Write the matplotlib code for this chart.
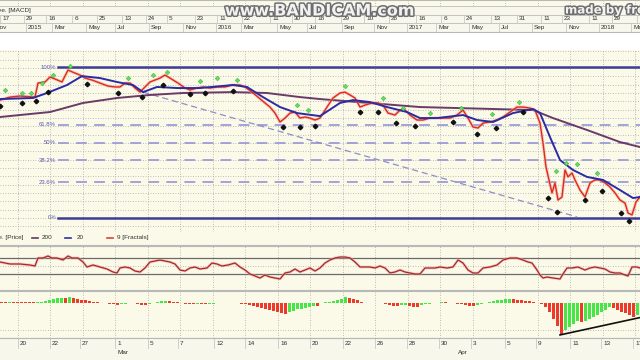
import numpy as np
import matplotlib
matplotlib.use('Agg')
import matplotlib.pyplot as plt
import matplotlib.patheffects as pe

plt.rcParams['font.family'] = ['Liberation Sans', 'DejaVu Sans']

# ---------------- main panel: weekly price, scaled so swing low = 0 and swing high = 100
price_bar = [0, 2.5, 5, 8.75, 9.5, 11.25, 12.5, 13.75, 15.5, 17, 18.75, 20, 21.25, 23, 25, 27, 28.75, 30,
             31.25, 32.5, 33.75, 35, 36.25, 37.5, 38.75, 40, 41.25, 42.5, 44.5, 46.25, 47.5, 49.25, 50.75,
             52.5, 54.25, 56.25, 58, 60, 61.25, 63, 64.5, 66.25, 67.5, 68.75, 70, 71.25, 72.5, 73.75, 75,
             76.25, 77.5, 78.75, 80, 81.75, 83.25, 85, 86.25, 87.5, 88.75, 90, 91.25, 93, 94.5, 95.75, 97,
             98.75, 100, 101.25, 102.5, 104.25, 105.75, 107.5, 109.25, 110.75, 112.5, 114.25, 115.75, 117,
             118.25, 119.5, 120.75, 122.5, 124.25, 125.75, 127.5, 129.25, 130.75, 132.5, 133.75, 135,
             135.75, 136.5, 137.25, 138, 138.75, 139.5, 140.5, 141.25, 142, 143, 143.75, 145, 146.25, 147.5,
             148.75, 150, 151.25, 152.5, 153.75, 155, 156.25, 157, 158, 159, 160]
price_close = [78.1, 80.1, 80.8, 80.1, 89.4, 90.1, 93.4, 92.1, 90.1, 98.0, 96.0, 94.7, 92.7, 91.4, 89.4,
               87.4, 86.8, 86.8, 89.4, 89.4, 86.1, 83.4, 86.8, 90.1, 91.4, 92.7, 94.7, 92.7, 89.4, 86.1,
               84.8, 86.1, 86.8, 86.1, 86.8, 86.8, 88.1, 88.1, 86.8, 83.4, 80.1, 76.2, 73.5, 69.5, 63.6,
               66.2, 69.5, 70.2, 66.2, 66.9, 66.2, 64.9, 66.2, 73.5, 79.5, 82.8, 83.4, 81.5, 79.5, 73.5,
               74.8, 76.2, 76.2, 74.8, 69.5, 68.2, 71.5, 71.5, 68.2, 64.9, 64.9, 66.2, 66.2, 66.2, 66.2,
               68.2, 71.5, 66.2, 60.3, 59.6, 62.9, 63.6, 64.9, 66.9, 70.2, 73.5, 73.5, 72.8, 71.5, 62.9,
               49.7, 33.8, 25.2, 16.6, 23.2, 11.9, 13.9, 31.8, 27.2, 29.8, 25.2, 18.5, 13.9, 23.2, 25.2,
               25.2, 23.2, 20.5, 16.6, 11.9, 9.9, 3.3, 2.0, 10.6, 13.9]

ma20_bar = [0, 8.25, 11.75, 16.75, 20.5, 25, 29.25, 33.25, 35.75, 39.25, 44.25, 50, 58.25, 61.75, 65.75,
            70, 74.25, 80, 85, 88.25, 92.5, 96.75, 101.75, 105, 109.25, 115.75, 119.25, 123.25, 128.25,
            133.25, 135, 137.5, 140, 143.25, 146.75, 150.75, 155, 158.25, 160]
ma20 = [78.8, 79.5, 82.8, 88.1, 94.0, 92.7, 90.1, 88.1, 83.4, 86.8, 86.1, 86.1, 88.1, 86.8, 80.1, 73.5,
        69.5, 67.5, 76.2, 78.1, 76.8, 73.5, 70.2, 66.2, 66.2, 68.2, 64.9, 63.6, 69.5, 72.2, 69.5, 53.6,
        38.4, 31.8, 27.2, 25.2, 18.5, 13.2, 13.9]

ma200_bar = [0, 12.5, 20.75, 29.25, 37.5, 45.75, 58.25, 66.75, 75, 80, 105, 133.25, 138.25, 146.75, 155, 160]
ma200 = [66.9, 70.2, 76.2, 79.5, 81.5, 82.8, 83.4, 82.8, 80.1, 78.8, 73.5, 71.5, 66.2, 58.3, 50.3, 47.0]

frac_up_bar = [1.25, 5.5, 7.75, 10.5, 13.25, 17.5, 32, 38.25, 41.75, 50, 54.25, 59.25, 74.25, 77, 86.25,
               95.75, 100.75, 107.5, 115.25, 123, 129.75, 139, 141.5, 144.25, 149.25]
frac_up = [84.8, 82.8, 82.8, 89.4, 94.7, 100.7, 92.7, 94.7, 96.7, 90.7, 92.7, 91.4, 74.8, 71.5, 87.4,
           79.5, 72.8, 69.5, 72.8, 68.9, 76.8, 31.1, 36.4, 35.8, 29.8]
frac_dn_bar = [0, 5.5, 9, 12, 21.75, 29.5, 35.5, 40.75, 47.5, 51.25, 58.25, 70.75, 75, 78.75, 90, 94.5,
               99, 103.75, 113.25, 119.25, 124, 130.75, 137, 139.25, 146.25, 150.5, 155.25, 157.25]
frac_dn = [74.2, 76.2, 77.5, 83.4, 88.7, 82.8, 80.1, 88.1, 82.1, 82.8, 84.1, 60.3, 60.3, 60.9, 70.2, 70.2,
           62.9, 60.9, 63.6, 55.6, 59.6, 70.2, 13.2, 4.0, 11.9, 17.9, 3.3, -2.0]

fib_levels = [100, 61.8, 50, 38.2, 23.6, 0]
fib_labels = ['100%', '61.8%', '50%', '38.2%', '23.6%', '0%']
trend_bar = [35.75, 144.25]
trend_val = [83.4, 0.7]

# ---------------- date strip above the main panel
top_days = ['17', '29', '16', '6', '25', '13', '24', '5', '23', '11', '22', '11', '30', '18', '29', '10',
            '28', '16', '6', '24', '13', '31', '11', '23', '11', '29', '19']
top_days_bar = [0.3, 6.25, 11.75, 18.25, 24.5, 30.75, 36.75, 42, 49, 54.5, 60.75, 67.75, 73.25, 79, 85.5,
                91.25, 97.5, 104.25, 110.5, 116.25, 123, 129.5, 135.5, 140.75, 147.5, 153.25, 159.5]
top_months = ['Nov', '2015', 'Mar', 'May', 'Jul', 'Sep', 'Nov', '2016', 'Mar', 'May', 'Jul', 'Sep', 'Nov',
              '2017', 'Mar', 'May', 'Jul', 'Sep', 'Nov', '2018', 'Mar']
top_months_bar = [-1.5, 6.75, 13.25, 21.75, 29, 37.5, 46, 54.25, 60.5, 69.5, 77, 85.75, 93.75, 102,
                  109.25, 117.5, 125, 133.25, 141.75, 150, 158]

# ---------------- lower panels (intraday bars)
rsi_bar = [0, 2.5, 5, 7.5, 8.75, 9.5, 10.75, 12, 13, 14.25, 15.75, 17, 18, 19.5, 20.75, 21.75, 23.25, 25,
           26.75, 28.25, 29.25, 30, 31.25, 32.5, 33.75, 35, 36.25, 37.5, 38.75, 40, 41.25, 42.5, 43.75,
           45, 46.25, 47.5, 48.75, 50, 51.75, 53, 54.25, 55.5, 57, 58.75, 60, 61.25, 62.5, 63.75, 65,
           66.25, 67.5, 68.75, 70, 71.25, 72.5, 73.75, 75, 76.25, 77.5, 78.75, 80, 81.25, 82.5, 83.75, 85,
           86.25, 87.5, 88.75, 90, 91.25, 92.5, 93.75, 95, 96.25, 97.5, 98.75, 100, 101.25, 102.5, 103.75,
           105, 106.25, 107.5, 108.75, 110, 111.75, 113.25, 114.5, 115.75, 117, 118.25, 119.5, 120.75,
           122.5, 124.25, 125.75, 127.5, 129.25, 130.75, 132, 133, 134.25, 135, 135.75, 136.75, 138.25,
           140, 140.75, 141.75, 143, 144.5, 146.25, 147.5, 148.75, 150, 151.25, 152.5, 153.75, 155,
           156.25, 157, 158, 159.25, 160]
rsi = [60, 55, 55, 52.5, 50, 70, 70, 75, 70, 70, 65, 75, 70, 70, 60, 47.5, 52.5, 47.5, 42.5, 35, 32.5,
       45, 47.5, 45, 37.5, 35, 45, 60, 62.5, 65, 62.5, 60, 55, 40, 37.5, 45, 47.5, 42.5, 45, 57.5, 55,
       50, 52.5, 57.5, 47.5, 40, 30, 25, 20, 27.5, 22.5, 20, 17.5, 32.5, 35, 42.5, 35, 40, 45, 37.5, 45,
       57.5, 65, 70, 72.5, 72.5, 70, 60, 47.5, 47.5, 47.5, 45, 50, 45, 32.5, 35, 40, 35, 32.5, 30, 30,
       45, 45, 45, 47.5, 45, 47.5, 65, 57.5, 40, 32.5, 32.5, 45, 47.5, 52.5, 65, 70, 70, 65, 60, 57.5,
       40, 27.5, 20, 22.5, 20, 17.5, 30, 45, 45, 47.5, 40, 45, 47.5, 45, 42.5, 35, 32.5, 32.5, 27.5,
       25, 47.5, 47.5, 45]
rsi_levels = [70, 30]

macd_hist = [1, 1, 1.5, 1.5, 1.5, 1.5, 1.2, 1, 0.8, 1,
             1.5, 2.5, 3.5, 4.5, 5, 5.5, 5.5, 6, 5.5, 4.5,
             3.5, 3, 2, 1.5, 1, 0.5, 0.2, -0.5, -1.2, -1.5,
             -1, -0.5, 0.3, -0.2, -0.5, -1.5, -1.8, -0.5, 0.5, 1.2,
             1.8, 2, 1.8, 1.5, 1, 0.3, -0.3, -0.6, -0.8, -0.6,
             -0.8, -1, -0.6, -0.3, 0.2, 0.3, 0.4, 0.3, 0.2, 0,
             -0.3, -0.8, -1.5, -2.5, -3.5, -4.5, -5.5, -6.5, -7.5, -8.5,
             -9.5, -10.5, -9, -7.5, -6, -5.5, -5, -3.5, -2.5, -3,
             0.5, 1, 1.5, 2, 3, 4.5, 6, 5.5, 4.5, 3,
             1.5, 0.5, 0.3, 0.5, 0.3, 0.2, -0.5, -1.5, -2.5, -3,
             -2, -1.5, -2.5, -3.5, -4, -2, -1, -0.5, 0, 0.5,
             1, 0.8, 0.3, 0, -0.5, -1, -2, -2.5, -3, -2,
             -0.5, 0.5, 1.5, 2.5, 3, 3.5, 4, 4.5, 4.2, 3.5,
             3, 2.5, 2, 1, 0.2, -1, -4, -9, -15, -22,
             -31, -26, -23, -20, -17, -18, -17, -15, -13, -11,
             -9, -7, -4, -5, -7, -9, -10, -11, -13, -11]
macd_trend_bar = [140, 160]
macd_trend_val = [-31, -14]

bottom_days = ['20', '22', '27', '1', '5', '7', '12', '14', '16', '20', '22', '26', '28', '30', '3', '5',
               '9', '11', '13', '17']
bottom_days_bar = [5, 13, 20.5, 29.25, 37.5, 45, 54, 61.75, 70, 78, 86.25, 94.25, 102.25, 110.25, 118.25,
                   126.75, 134.5, 143, 150.75, 158.75]
bottom_months = ['Mar', 'Apr']
bottom_months_bar = [29.25, 114.5]

# ---------------- styling
W, H = 640, 360
BG = '#fbfae8'
STRIP = '#f8f7ec'
GRID = '#a9a9a9'
grid_x = np.arange(4.375, 161, 8.125)
FS = 4.6

fig = plt.figure(figsize=(6.4, 3.6), dpi=100, facecolor='white')


def panel(top, bottom, color=BG):
    ax = fig.add_axes([0, 1 - bottom / H, 1, (bottom - top) / H])
    ax.set_facecolor(color)
    ax.set_xlim(0, 160)
    ax.tick_params(left=False, bottom=False, labelleft=False, labelbottom=False)
    for side, s in ax.spines.items():
        s.set_color('#b8b8b8')
        s.set_linewidth(0.8)
        if side in ('left', 'right'):
            s.set_visible(False)
    return ax


def dotted_grid(ax, yticks):
    ax.set_xticks(grid_x)
    ax.set_yticks(yticks)
    ax.grid(True, color=GRID, linestyle=(0, (1, 2)), linewidth=0.6)
    ax.set_axisbelow(True)


# top strip: tail of the previous chart and its date scale
ax_top = panel(0, 32, STRIP)
ax_top.set_ylim(32, 0)
ax_top.axhspan(0, 5.5, color=BG, lw=0)
ax_top.vlines(grid_x, 0, 5.5, colors=GRID, linestyles=(0, (1, 2)), linewidth=0.6)
for y in (5.5, 14.5, 23, 31.5):
    ax_top.axhline(y, color='#c4c4c4', lw=0.7)
ax_top.text(7.8, 10.2, 'Moving Ave. [MACD]', ha='right', va='center', fontsize=FS, color='#303030')
for lab, b in zip(top_days, top_days_bar):
    ax_top.text(b + 0.3, 19, lab, ha='left', va='center', fontsize=FS, color='#303030')
    ax_top.plot([b - 0.2, b - 0.2], [14.5, 23], color='#c8c8c8', lw=0.6)
for lab, b in zip(top_months, top_months_bar):
    ax_top.text(b + 0.3, 27.5, lab, ha='left', va='center', fontsize=FS, color='#303030')
    ax_top.plot([b - 0.2, b - 0.2], [23, 31.5], color='#c8c8c8', lw=0.6)

# main price panel
ax = panel(50, 232)
ax.set_ylim(-9.3, 111.3)
dotted_grid(ax, np.arange(-1, 21) * 5.52)
ax.spines['top'].set_visible(False)
ax.spines['bottom'].set_visible(False)
for lvl, lab in zip(fib_levels, fib_labels):
    if lvl in (0, 100):
        ax.plot([14.5, 160], [lvl, lvl], color='#3d3d98', lw=1.8, zorder=2)
    else:
        ax.plot([14.5, 160], [lvl, lvl], color='#9c9cd8', lw=1.3, dashes=(6, 4), zorder=2)
    ax.text(14, lvl, lab, ha='right', va='center', fontsize=4.3, color='#5a5ab4')
ax.plot(trend_bar, trend_val, color='#8e8ec8', lw=0.9, dashes=(5, 3), zorder=2)
ax.plot(ma200_bar, ma200, color='#6b3a68', lw=1.4, zorder=3)
ax.plot(price_bar, price_close, color='#f4a4a0', lw=2.2, alpha=0.55, zorder=3)
ax.plot(price_bar, price_close, color='#e02a1a', lw=1.0, zorder=4)
ax.plot(ma20_bar, ma20, color='#2b2ba6', lw=1.4, zorder=5)
ax.plot(frac_up_bar, frac_up, 'D', ms=2.4, color='#5ce05c', mec='#3aa83a', mew=0.3, zorder=6)
ax.plot(frac_dn_bar, frac_dn, 'D', ms=2.3, color='#111111', zorder=6)

# legend row
ax_leg = panel(232, 245)
ax_leg.set_ylim(0, 1)
ax_leg.spines['top'].set_visible(False)
ax_leg.text(5.8, 0.55, 'Moving Ave. [Price]', ha='right', va='center', fontsize=FS, color='#303030')
legend_items = [('200', '#5a3a6a', 8, 10.5), ('20', '#3030a0', 16.25, 19.25),
                ('9 [Fractals]', '#e04040', 26.75, 29.25)]
for lab, col, x0, xt in legend_items:
    ax_leg.plot([x0, x0 + 1.6], [0.55, 0.55], color=col, lw=1.2)
    ax_leg.text(xt, 0.55, lab, ha='left', va='center', fontsize=FS, color='#303030')

# RSI-type oscillator
ax_r = panel(246, 290)
ax_r.set_ylim(-10, 100)
dotted_grid(ax_r, [50])
for lvl in rsi_levels:
    ax_r.axhline(lvl, color='#6a6a6a', lw=0.9)
ax_r.plot(rsi_bar, rsi, color='#f0a8a8', lw=2.0, alpha=0.6)
ax_r.plot(rsi_bar, rsi, color='#a82828', lw=0.9)

# MACD histogram
ax_m = panel(291, 338)
ax_m.set_ylim(-34, 12)
dotted_grid(ax_m, [-26])
hist_bar = np.arange(len(macd_hist))
rising = np.diff(np.r_[macd_hist[0], macd_hist]) > 0
hist_col = np.where(rising, '#46e646', '#ee3a2a')
ax_m.bar(hist_bar, macd_hist, width=0.8, color=hist_col, linewidth=0, align='edge')
ax_m.plot(macd_trend_bar, macd_trend_val, color='#101010', lw=1.2)

# bottom date scale
ax_b = panel(338, 360, STRIP)
ax_b.set_ylim(22, 0)
ax_b.spines['bottom'].set_visible(False)
for lab, b in zip(bottom_days, bottom_days_bar):
    ax_b.text(b, 5.5, lab, ha='left', va='center', fontsize=FS, color='#303030')
    ax_b.plot([b - 0.5, b - 0.5], [0, 9.5], color='#c8c8c8', lw=0.6)
for lab, b in zip(bottom_months, bottom_months_bar):
    ax_b.text(b, 14.5, lab, ha='left', va='center', fontsize=FS, color='#303030')

# screen recorder watermarks
wm = [pe.withStroke(linewidth=2.2, foreground='#6e6e6e')]
fig.text(0.5, 1 - 11 / H, 'www.BANDICAM.com', ha='center', va='center', fontsize=11.5,
         fontweight='bold', family='DejaVu Sans', color='#f2f2f2', path_effects=wm)
fig.text(565 / W, 1 - 10 / H, 'made by freeware', ha='left', va='center', fontsize=8.5,
         fontweight='bold', family='DejaVu Sans', color='#f2f2f2', path_effects=wm)

fig.savefig('out.png', dpi=100, facecolor='white')
